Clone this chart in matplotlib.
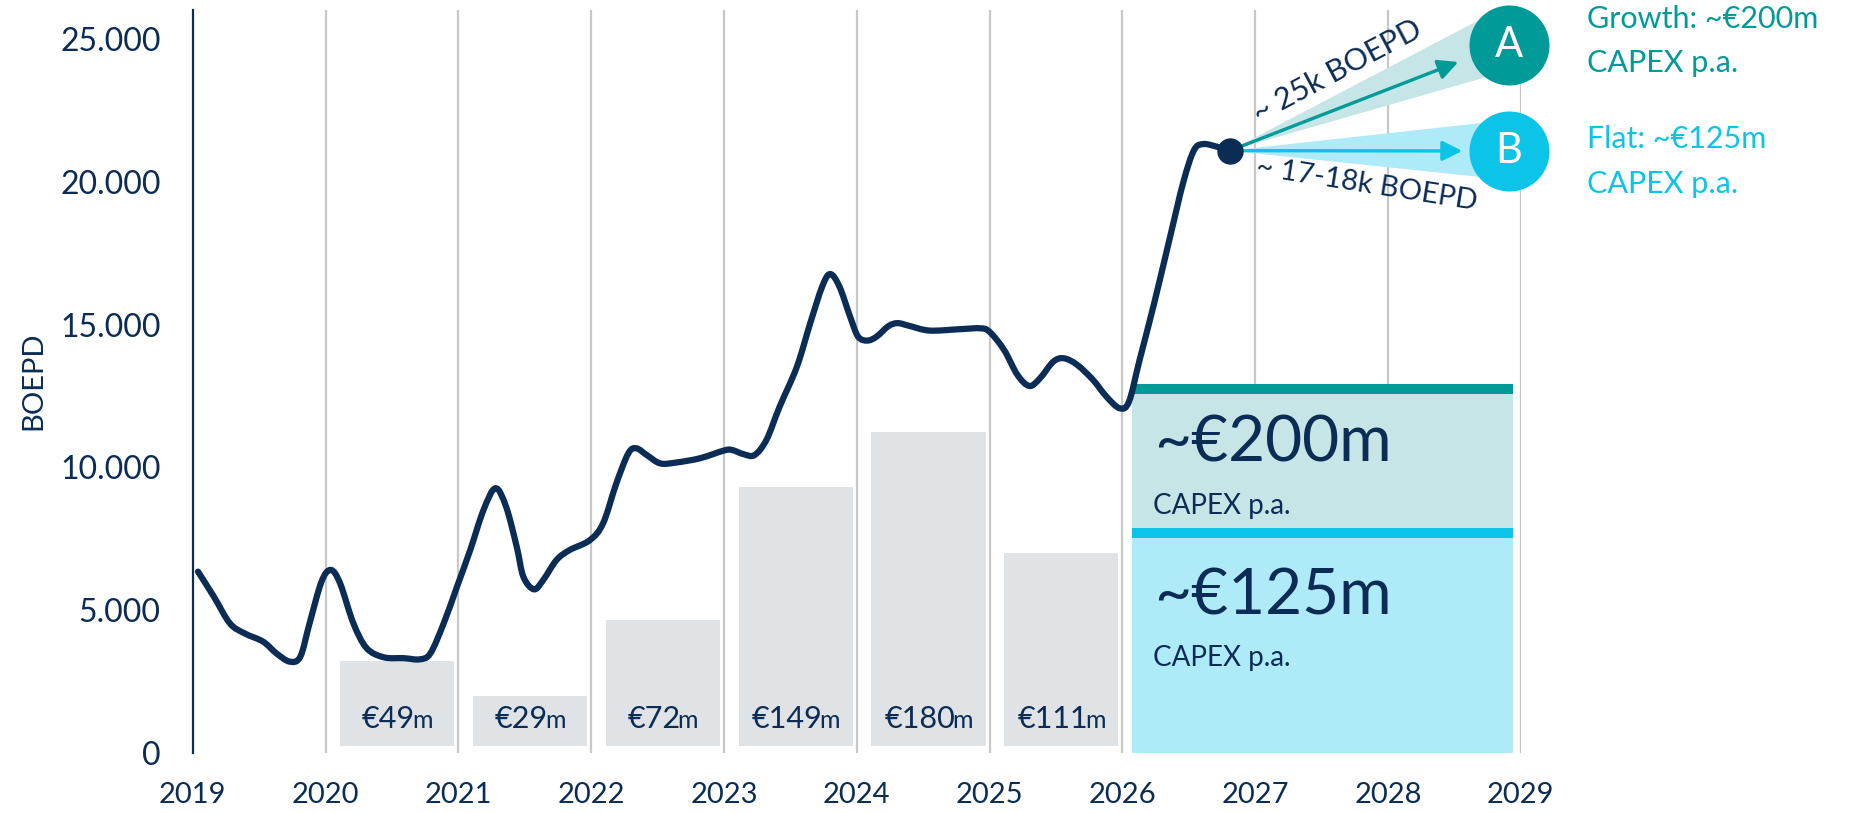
import matplotlib
matplotlib.use('Agg')
import matplotlib.pyplot as plt
from matplotlib.path import Path
from matplotlib.patches import PathPatch

plt.rcParams['font.family'] = ['Lato', 'DejaVu Sans']

# ---------------- data ----------------
line_years = [2019.04, 2019.16, 2019.28, 2019.39, 2019.53, 2019.63, 2019.73, 2019.81, 2019.88, 2019.97,
              2020.04, 2020.11, 2020.21, 2020.31, 2020.44, 2020.59, 2020.71, 2020.79, 2020.89, 2020.99,
              2021.09, 2021.19, 2021.28, 2021.36, 2021.44, 2021.49, 2021.57, 2021.64, 2021.74, 2021.84,
              2021.99, 2022.09, 2022.19, 2022.28, 2022.34, 2022.42, 2022.52, 2022.64, 2022.82, 2023.00,
              2023.06, 2023.15, 2023.23, 2023.32, 2023.42, 2023.55, 2023.65, 2023.74, 2023.80, 2023.87,
              2023.95, 2024.01, 2024.08, 2024.15, 2024.24, 2024.31, 2024.40, 2024.55, 2024.78, 2024.93,
              2025.00, 2025.11, 2025.21, 2025.30, 2025.38, 2025.48, 2025.56, 2025.66, 2025.78, 2025.88,
              2025.98, 2026.05, 2026.13, 2026.24, 2026.36, 2026.46, 2026.54, 2026.61, 2026.71, 2026.81]
line_boepd = [6350, 5470, 4540, 4190, 3900, 3490, 3200, 3370, 4540, 6000,
              6410, 5940, 4540, 3670, 3350, 3320, 3280, 3490, 4540, 5820,
              7110, 8510, 9270, 8620, 7220, 6170, 5730, 6060, 6760, 7110,
              7450, 8040, 9440, 10490, 10670, 10430, 10140, 10170, 10320, 10590,
              10610, 10460, 10430, 10960, 12130, 13530, 15050, 16330, 16770, 16330,
              15280, 14580, 14440, 14580, 14950, 15050, 14950, 14790, 14840, 14870,
              14750, 14110, 13240, 12850, 13120, 13700, 13820, 13590, 13060, 12480,
              12070, 12300, 13760, 15750, 18080, 20000, 21110, 21320, 21230, 21090]

capex_years = [2020, 2021, 2022, 2023, 2024, 2025]
capex_amounts = ['€49', '€29', '€72', '€149', '€180', '€111']
capex_bar_tops = [3230, 2010, 4650, 9330, 11230, 7010]
capex_bar_base = 250

year_ticks = [2019, 2020, 2021, 2022, 2023, 2024, 2025, 2026, 2027, 2028, 2029]
value_ticks = [0, 5000, 10000, 15000, 20000, 25000]
value_tick_labels = ['0', '5.000', '10.000', '15.000', '20.000', '25.000']

# forecast capex box (BOEPD-axis levels)
growth_band = [12570, 12920]
growth_fill = [7878, 12570]
flat_band = [7528, 7878]
flat_fill = [0, 7528]
box_start, box_end = 2026.075, 2028.94

# scenario end points
dot_point = (2026.81, 21090)
circle_a = (2028.91, 24790)
circle_b = (2028.91, 21080)
arrow_a_tip = (2028.53, 24195)
arrow_b_tip = (2028.56, 21080)
cone_a = [26207, 23893]
cone_b = [22164, 20063]

# ---------------- style ----------------
NAVY = '#0B2C54'
GRAY_BAR = '#DFE3E6'
GRID = '#C8C8C8'
TEAL = '#009A98'
TEAL_LIGHT = '#C5E5E7'
CYAN = '#0CC3E8'
CYAN_LIGHT = '#AEEAF7'

fig = plt.figure(figsize=(18.6, 8.13), dpi=100)
ax = fig.add_axes([0.1036, 0.0738, 0.714, 0.9134])
ax.set_xlim(2019, 2029)
ax.set_ylim(0, 26000)

for s in ['top', 'right', 'bottom']:
    ax.spines[s].set_visible(False)
ax.spines['left'].set_color(NAVY)
ax.spines['left'].set_linewidth(1.6)

ax.vlines(year_ticks[1:], 0, 26000, color=GRID, lw=1.6, zorder=0)

ax.set_xticks(year_ticks)
ax.set_xticklabels([str(y) for y in year_ticks])
ax.set_yticks(value_ticks)
ax.set_yticklabels(value_tick_labels)
ax.tick_params(axis='x', length=0, pad=21, labelsize=21, labelcolor=NAVY)
ax.tick_params(axis='y', length=0, pad=23, labelsize=23, labelcolor=NAVY)
fig.text(33 / 1860, 1 - 381 / 813, 'BOEPD', rotation=90, ha='center', va='center',
         fontsize=21, color=NAVY)

# historical capex bars
heights = [t - capex_bar_base for t in capex_bar_tops]
ax.bar([y + 0.11 for y in capex_years], heights, bottom=capex_bar_base, width=0.86,
       align='edge', color=GRAY_BAR, zorder=1)

# forecast box
w = box_end - box_start
ax.bar(box_start, flat_fill[1] - flat_fill[0], bottom=flat_fill[0], width=w, align='edge', color=CYAN_LIGHT, zorder=1)
ax.bar(box_start, flat_band[1] - flat_band[0], bottom=flat_band[0], width=w, align='edge', color=CYAN, zorder=1)
ax.bar(box_start, growth_fill[1] - growth_fill[0], bottom=growth_fill[0], width=w, align='edge', color=TEAL_LIGHT, zorder=1)
ax.bar(box_start, growth_band[1] - growth_band[0], bottom=growth_band[0], width=w, align='edge', color=TEAL, zorder=1)

ax.text(2026.24, 10206, '~€200m', fontsize=46, color=NAVY, ha='left', va='baseline', zorder=6)
ax.text(2026.23, 8368, 'CAPEX p.a.', fontsize=20, color=NAVY, ha='left', va='baseline', zorder=6)
ax.text(2026.24, 4832, '~€125m', fontsize=46, color=NAVY, ha='left', va='baseline', zorder=6)
ax.text(2026.23, 3046, 'CAPEX p.a.', fontsize=20, color=NAVY, ha='left', va='baseline', zorder=6)

# production line, drawn as a smooth curve through the read points
verts = [(line_years[0], line_boepd[0])]
codes = [Path.MOVETO]
n = len(line_years)
for i in range(n - 1):
    p0 = (line_years[max(i - 1, 0)], line_boepd[max(i - 1, 0)])
    p1 = (line_years[i], line_boepd[i])
    p2 = (line_years[i + 1], line_boepd[i + 1])
    p3 = (line_years[min(i + 2, n - 1)], line_boepd[min(i + 2, n - 1)])
    c1 = (p1[0] + (p2[0] - p0[0]) / 6, p1[1] + (p2[1] - p0[1]) / 6)
    c2 = (p2[0] - (p3[0] - p1[0]) / 6, p2[1] - (p3[1] - p1[1]) / 6)
    verts += [c1, c2, p2]
    codes += [Path.CURVE4] * 3
ax.add_patch(PathPatch(Path(verts, codes), facecolor='none', edgecolor=NAVY, lw=4.5,
                       capstyle='round', joinstyle='round', zorder=5))

# cones
ax.fill([dot_point[0], circle_a[0], circle_a[0]], [dot_point[1], cone_a[0], cone_a[1]],
        color=TEAL_LIGHT, lw=0, zorder=2, clip_on=False)
ax.fill([dot_point[0], circle_b[0], circle_b[0]], [dot_point[1], cone_b[0], cone_b[1]],
        color=CYAN_LIGHT, lw=0, zorder=2, clip_on=False)

for tip, col in [(arrow_a_tip, TEAL), (arrow_b_tip, CYAN)]:
    ax.annotate('', xy=tip, xytext=dot_point,
                arrowprops=dict(arrowstyle='-|>,head_length=0.6,head_width=0.3', color=col, lw=2.4,
                                shrinkA=0, shrinkB=0, mutation_scale=20), zorder=4)

ax.scatter([circle_a[0]], [circle_a[1]], s=57.6 ** 2, color=TEAL, lw=0, zorder=6, clip_on=False)
ax.scatter([circle_b[0]], [circle_b[1]], s=57.6 ** 2, color=CYAN, lw=0, zorder=6, clip_on=False)
ax.text(circle_a[0], circle_a[1], 'A', color='white', fontsize=30, ha='center', va='center', zorder=7)
ax.text(circle_b[0], circle_b[1], 'B', color='white', fontsize=30, ha='center', va='center', zorder=7)

ax.plot([dot_point[0]], [dot_point[1]], 'o', ms=18, color=NAVY, zorder=8, clip_on=False)

ax.text(2027.62, 23880, '~ 25k BOEPD', rotation=28, rotation_mode='anchor', ha='center', va='center',
        fontsize=22, color=NAVY, zorder=6)
ax.text(2027.84, 19888, '~ 17-18k BOEPD', rotation=-9, rotation_mode='anchor', ha='center', va='center',
        fontsize=21, color=NAVY, zorder=6)

# scenario legend texts
ax.text(2029.50, 25385, 'Growth: ~€200m', fontsize=22, color=TEAL, ha='left', va='baseline', clip_on=False)
ax.text(2029.50, 23845, 'CAPEX p.a.', fontsize=22, color=TEAL, ha='left', va='baseline', clip_on=False)
ax.text(2029.50, 21183, 'Flat: ~€125m', fontsize=22, color=CYAN, ha='left', va='baseline', clip_on=False)
ax.text(2029.50, 19608, 'CAPEX p.a.', fontsize=22, color=CYAN, ha='left', va='baseline', clip_on=False)

# capex bar labels with small "m"
fig.canvas.draw()
renderer = fig.canvas.get_renderer()
label_base = 875
px_per_year = ax.transData.transform((1, 0))[0] - ax.transData.transform((0, 0))[0]
for yr, amt in zip(capex_years, capex_amounts):
    cx = yr + 0.11 + 0.43
    t1 = ax.text(cx, label_base, amt, fontsize=22, color=NAVY, ha='left', va='baseline', zorder=6)
    t2 = ax.text(cx, label_base, 'm', fontsize=18, color=NAVY, ha='left', va='baseline', zorder=6)
    w1 = t1.get_window_extent(renderer).width
    w2 = t2.get_window_extent(renderer).width
    gap = -3
    total = w1 + w2 + gap
    start = cx - (total / 2) / px_per_year
    t1.set_x(start)
    t2.set_x(start + (w1 + gap) / px_per_year)

fig.savefig('out.png', dpi=100)
